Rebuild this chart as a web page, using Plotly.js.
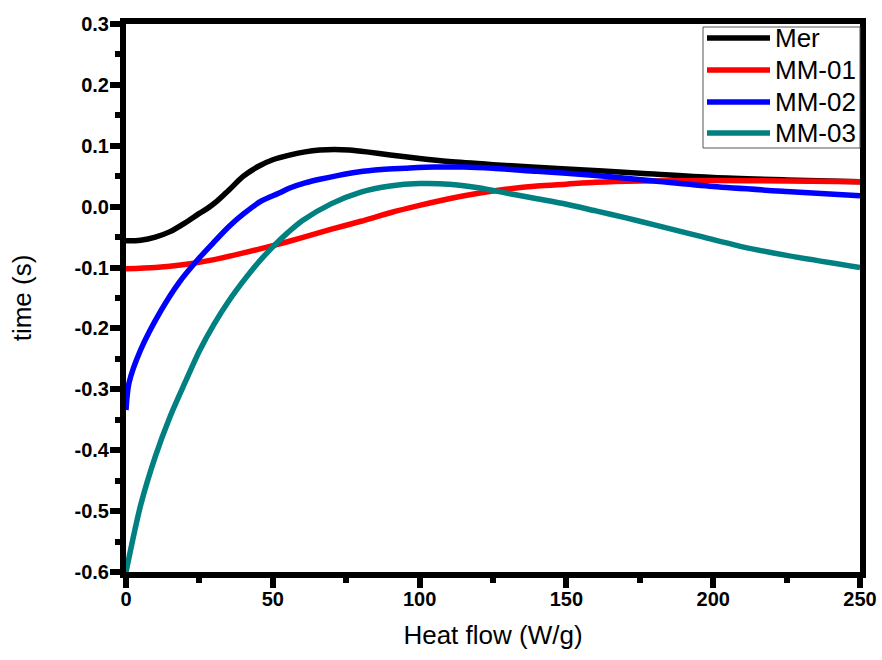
<!DOCTYPE html>
<html>
<head>
<meta charset="utf-8">
<script src="https://cdn.plot.ly/plotly-3.0.1.min.js"></script>
<style>html,body{margin:0;padding:0;background:#fff;}#chart{width:882px;height:660px;}</style>
</head>
<body>
<div id="chart"></div>
<script>
// Series names and colours
const seriesNames = ["Mer", "MM-01", "MM-02", "MM-03"];
const seriesColors = ["#000000", "#ff0000", "#0000ff", "#008080"];

// Mer
const merX = [0, 5, 10, 15, 20, 25, 28, 31, 35, 40, 45, 50, 56, 61, 66, 71, 76, 82, 90, 100, 110, 125, 150, 175, 200, 225, 250];
const merY = [-0.056, -0.055, -0.050, -0.041, -0.027, -0.011, -0.002, 0.009, 0.027, 0.050, 0.066, 0.077, 0.085, 0.090, 0.093, 0.094, 0.093, 0.090, 0.085, 0.079, 0.074, 0.069, 0.062, 0.055, 0.048, 0.044, 0.041];

// MM-01
const mm01X = [0, 10, 20, 30, 40, 50, 60, 70, 80, 90, 100, 110, 120, 130, 140, 150, 160, 175, 200, 225, 250];
const mm01Y = [-0.102, -0.100, -0.095, -0.087, -0.076, -0.064, -0.051, -0.037, -0.024, -0.010, 0.002, 0.013, 0.022, 0.029, 0.034, 0.037, 0.040, 0.042, 0.043, 0.042, 0.041];

// MM-02
const mm02X = [0, 1, 5, 12, 18, 25, 30, 35, 40, 46, 52, 56, 61, 66, 72, 79, 87, 95, 105, 115, 125, 140, 150, 165, 180, 200, 225, 250];
const mm02Y = [-0.334, -0.290, -0.235, -0.170, -0.125, -0.084, -0.058, -0.033, -0.012, 0.009, 0.022, 0.031, 0.039, 0.045, 0.051, 0.057, 0.061, 0.063, 0.065, 0.065, 0.063, 0.058, 0.055, 0.049, 0.042, 0.033, 0.025, 0.018];

// MM-03
const mm03X = [0, 5, 10, 15, 20, 25, 30, 35, 40, 45, 50, 55, 60, 70, 80, 90, 100, 110, 120, 130, 140, 150, 160, 170, 180, 195, 210, 225, 250];
const mm03Y = [-0.600, -0.490, -0.410, -0.345, -0.290, -0.237, -0.193, -0.155, -0.122, -0.092, -0.066, -0.043, -0.023, 0.005, 0.024, 0.034, 0.038, 0.037, 0.031, 0.022, 0.013, 0.004, -0.007, -0.018, -0.030, -0.048, -0.066, -0.080, -0.100];

// Ticks
const xTickVals = [0, 50, 100, 150, 200, 250];
const xTickText = ["0", "50", "100", "150", "200", "250"];
const yTickVals = [0.3, 0.2, 0.1, 0.0, -0.1, -0.2, -0.3, -0.4, -0.5, -0.6];
const yTickText = ["0.3", "0.2", "0.1", "0.0", "-0.1", "-0.2", "-0.3", "-0.4", "-0.5", "-0.6"];

const xs = [merX, mm01X, mm02X, mm03X];
const ys = [merY, mm01Y, mm02Y, mm03Y];

const traces = seriesNames.map((n, i) => ({
  x: xs[i], y: ys[i], name: n, type: "scatter", mode: "lines",
  line: {color: seriesColors[i], width: 5.5, shape: "spline", smoothing: 0.8},
  showlegend: false
}));

// Plot-area geometry (pixels) used to place the hand-made legend
const W = 882, H = 660, ML = 126, MR = 22, MT = 24, MB = 88;
const PW = W - ML - MR, PH = H - MT - MB;
const px = v => (v - ML) / PW;
const py = v => (H - MB - v) / PH;

const FONT = "Liberation Sans, Arial, sans-serif";
const shapes = [];
const annotations = [];
// legend box
shapes.push({type: "rect", xref: "paper", yref: "paper", x0: px(703), x1: px(860), y0: py(148), y1: py(27),
  line: {color: "#555", width: 1}, fillcolor: "rgba(0,0,0,0)", layer: "above"});
const rowY = [38, 70, 102, 133];
seriesNames.forEach((n, i) => {
  shapes.push({type: "line", xref: "paper", yref: "paper", x0: px(707), x1: px(770), y0: py(rowY[i]), y1: py(rowY[i]),
    line: {color: seriesColors[i], width: 5.5}, layer: "above"});
  annotations.push({xref: "paper", yref: "paper", x: px(773), y: py(rowY[i]), xanchor: "left", yanchor: "middle",
    text: n, showarrow: false, font: {family: FONT, size: 26, color: "#000"}});
});

const tickFont = {family: FONT, size: 20, color: "#000", weight: "bold"};
const layout = {
  width: W, height: H,
  margin: {l: ML, r: MR, t: MT, b: MB},
  paper_bgcolor: "#fff", plot_bgcolor: "#fff",
  showlegend: false,
  shapes: shapes,
  annotations: annotations,
  xaxis: {
    range: [0, 250], tickvals: xTickVals, ticktext: xTickText,
    showgrid: false, zeroline: false, showline: true, linecolor: "#000", linewidth: 6, mirror: true,
    ticks: "outside", ticklen: 10, tickwidth: 6, tickcolor: "#000",
    minor: {ticks: "outside", ticklen: 5, tickwidth: 6, tickcolor: "#000", dtick: 25, tick0: 0, showgrid: false},
    tickfont: tickFont, ticklabelstandoff: -6,
    title: {text: "Heat flow (W/g)", font: {family: FONT, size: 26, color: "#000"}, standoff: 19}
  },
  yaxis: {
    range: [-0.6, 0.3], tickvals: yTickVals, ticktext: yTickText,
    showgrid: false, zeroline: false, showline: true, linecolor: "#000", linewidth: 6, mirror: true,
    ticks: "outside", ticklen: 10, tickwidth: 6, tickcolor: "#000",
    minor: {ticks: "outside", ticklen: 5, tickwidth: 6, tickcolor: "#000", dtick: 0.05, tick0: 0, showgrid: false},
    tickfont: tickFont, ticklabelstandoff: -3,
    title: {text: "time (s)", font: {family: FONT, size: 26, color: "#000"}, standoff: 37}
  }
};

Plotly.newPlot("chart", traces, layout, {displayModeBar: false, staticPlot: true});
</script>
</body>
</html>
